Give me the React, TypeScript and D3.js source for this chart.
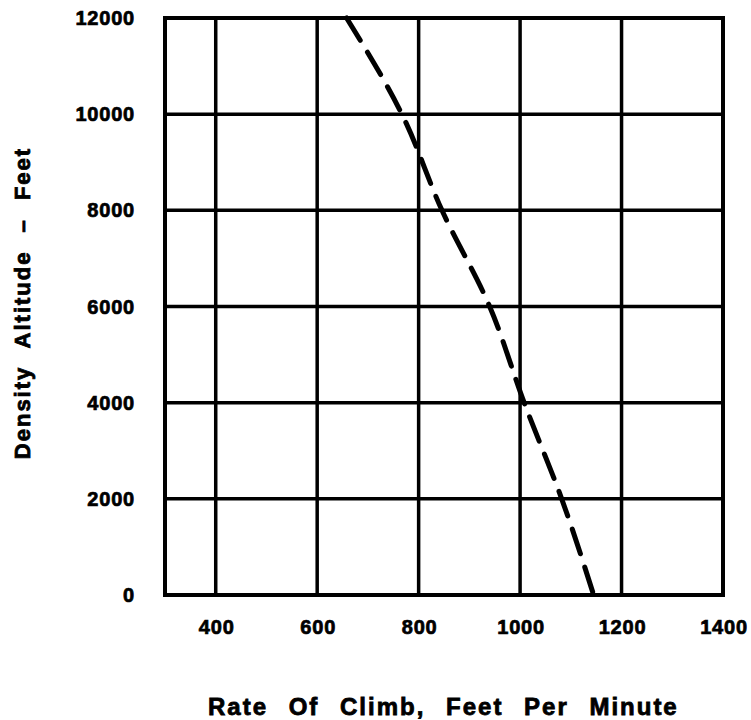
import React from "react";
import * as d3 from "d3";

const xTicks = [400, 600, 800, 1000, 1200, 1400];
const yTicks = [0, 2000, 4000, 6000, 8000, 10000, 12000];
const altitude = [12000, 10000, 8000, 6000, 4000, 2000, 0];
const rateOfClimb = [658, 767, 846, 940, 1008, 1082, 1145];
const xTitle = "Rate Of Climb, Feet Per Minute";
const yTitle = "Density Altitude – Feet";

const W = 751;
const H = 720;
const M = { left: 165, right: 28, top: 18, bottom: 125 };

export default function App() {
  const x = d3.scaleLinear().domain([300, 1400]).range([M.left, W - M.right]);
  const y = d3.scaleLinear().domain([0, 12000]).range([H - M.bottom, M.top]);
  const pts = altitude.map((a, i) => [rateOfClimb[i], a] as [number, number]);
  const line = d3
    .line<[number, number]>()
    .x((d) => x(d[0]))
    .y((d) => y(d[1]))
    .curve(d3.curveMonotoneY);
  const font = "'Liberation Sans', Arial, sans-serif";
  const ink = "#000";
  return (
    <svg
      width={W}
      height={H}
      style={{ position: "absolute", left: 0, top: 0, background: "#fff" }}
    >
      <rect x={0} y={0} width={W} height={H} fill="#fff" />
      {/* grid */}
      {xTicks.slice(0, -1).map((t) => (
        <line key={"vx" + t} x1={x(t)} x2={x(t)} y1={y(0)} y2={y(12000)} stroke={ink} strokeWidth={3.5} />
      ))}
      {yTicks.slice(1, -1).map((t) => (
        <line key={"hy" + t} x1={x(300)} x2={x(1400)} y1={y(t)} y2={y(t)} stroke={ink} strokeWidth={3.5} />
      ))}
      <rect
        x={x(300)}
        y={y(12000)}
        width={x(1400) - x(300)}
        height={y(0) - y(12000)}
        fill="none"
        stroke={ink}
        strokeWidth={4}
      />
      {/* dashed curve */}
      <path
        d={line(pts) || ""}
        fill="none"
        stroke={ink}
        strokeWidth={5}
        strokeDasharray="26 14"
        strokeLinecap="round"
      />
      {/* x tick labels */}
      {xTicks.map((t) => (
        <text
          key={"xt" + t}
          x={x(t) + 1}
          y={634}
          textAnchor="middle"
          fontFamily={font}
          fontWeight="bold"
          fontSize={20}
          letterSpacing={0.8}
          stroke={ink}
          strokeWidth={0.7}
          fill={ink}
        >
          {t}
        </text>
      ))}
      {/* y tick labels */}
      {yTicks.map((t) => (
        <text
          key={"yt" + t}
          x={135}
          y={y(t) + 7}
          textAnchor="end"
          fontFamily={font}
          fontWeight="bold"
          fontSize={20}
          letterSpacing={0.8}
          stroke={ink}
          strokeWidth={0.7}
          fill={ink}
        >
          {t}
        </text>
      ))}
      {/* axis titles */}
      <text
        x={208}
        y={715}
        textAnchor="start"
        fontFamily={font}
        fontWeight="bold"
        fontSize={24}
        letterSpacing={2}
        wordSpacing={12}
        stroke={ink}
        strokeWidth={0.8}
        fill={ink}
      >
        {xTitle}
      </text>
      <text
        transform={`translate(30, ${303}) rotate(-90)`}
        textAnchor="middle"
        fontFamily={font}
        fontWeight="bold"
        fontSize={22}
        letterSpacing={2}
        wordSpacing={10}
        stroke={ink}
        strokeWidth={0.8}
        fill={ink}
      >
        {yTitle}
      </text>
    </svg>
  );
}
